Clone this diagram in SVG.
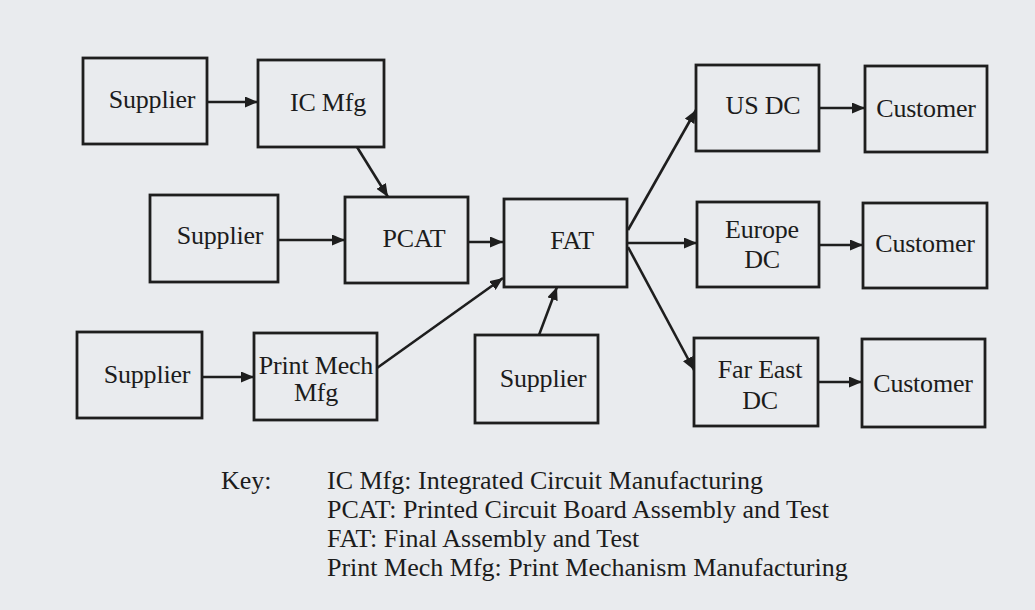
<svg xmlns="http://www.w3.org/2000/svg" width="1035" height="610" viewBox="0 0 1035 610">
<style>
.box{fill:#e9ebee;stroke:#1e1e1e;stroke-width:2.8}
.t{font-family:"Liberation Serif","Times New Roman",serif;font-size:26px;fill:#1c1c1c;text-anchor:middle;letter-spacing:-0.2px}
.k{font-family:"Liberation Serif","Times New Roman",serif;font-size:26px;fill:#1c1c1c}
.c{stroke:#1e1e1e;stroke-width:2.6;fill:none;marker-end:url(#ah)}
</style>
<defs>
<marker id="ah" markerUnits="userSpaceOnUse" markerWidth="13" markerHeight="11" refX="13" refY="5.5" orient="auto">
<path d="M0,0 L13,5.5 L0,11 z" fill="#1e1e1e"/>
</marker>
</defs>
<rect width="1035" height="610" fill="#e9ebee"/>
<g id="connectors">
<line class="c" x1="207" y1="102" x2="258" y2="102"/>
<line class="c" x1="357" y1="147" x2="388" y2="197"/>
<line class="c" x1="278" y1="240" x2="345" y2="240"/>
<line class="c" x1="468" y1="242" x2="503" y2="242"/>
<line class="c" x1="202" y1="377" x2="254" y2="377"/>
<line class="c" x1="377" y1="368" x2="503" y2="278"/>
<line class="c" x1="539" y1="335" x2="557" y2="287"/>
<line class="c" x1="628" y1="230" x2="696" y2="110"/>
<line class="c" x1="627" y1="243" x2="697" y2="243"/>
<line class="c" x1="628" y1="247" x2="694" y2="370"/>
<line class="c" x1="819" y1="108" x2="865" y2="108"/>
<line class="c" x1="819" y1="245" x2="863" y2="245"/>
<line class="c" x1="818" y1="382" x2="862" y2="382"/>
</g>
<g id="supplier1"><rect class="box" x="83" y="58" width="124" height="86"/><text class="t" x="152" y="108">Supplier</text></g>
<g id="icmfg"><rect class="box" x="258" y="60" width="126" height="87"/><text class="t" x="328" y="111">IC Mfg</text></g>
<g id="supplier2"><rect class="box" x="150" y="195" width="128" height="87"/><text class="t" x="220" y="244">Supplier</text></g>
<g id="pcat"><rect class="box" x="345" y="197" width="123" height="86"/><text class="t" x="414" y="247">PCAT</text></g>
<g id="fat"><rect class="box" x="504" y="199" width="123" height="88"/><text class="t" x="572" y="249">FAT</text></g>
<g id="supplier3"><rect class="box" x="77" y="332" width="125" height="86"/><text class="t" x="147" y="383">Supplier</text></g>
<g id="printmech"><rect class="box" x="254" y="333" width="123" height="87"/><text class="t" x="316" y="374">Print Mech</text><text class="t" x="316" y="401">Mfg</text></g>
<g id="supplier4"><rect class="box" x="475" y="335" width="123" height="88"/><text class="t" x="543" y="387">Supplier</text></g>
<g id="usdc"><rect class="box" x="696" y="65" width="123" height="86"/><text class="t" x="763" y="114">US DC</text></g>
<g id="europedc"><rect class="box" x="697" y="202" width="122" height="85"/><text class="t" x="762" y="238">Europe</text><text class="t" x="762" y="268">DC</text></g>
<g id="fareastdc"><rect class="box" x="694" y="338" width="124" height="88"/><text class="t" x="760" y="378">Far East</text><text class="t" x="760" y="409">DC</text></g>
<g id="customer1"><rect class="box" x="865" y="66" width="122" height="86"/><text class="t" x="926" y="117">Customer</text></g>
<g id="customer2"><rect class="box" x="863" y="203" width="124" height="85"/><text class="t" x="925" y="252">Customer</text></g>
<g id="customer3"><rect class="box" x="862" y="339" width="123" height="88"/><text class="t" x="923" y="392">Customer</text></g>
<g id="key">
<text class="k" x="221" y="489">Key:</text>
<text class="k" x="327" y="489">IC Mfg: Integrated Circuit Manufacturing</text>
<text class="k" x="327" y="518">PCAT: Printed Circuit Board Assembly and Test</text>
<text class="k" x="327" y="547">FAT: Final Assembly and Test</text>
<text class="k" x="327" y="576">Print Mech Mfg: Print Mechanism Manufacturing</text>
</g>
</svg>
